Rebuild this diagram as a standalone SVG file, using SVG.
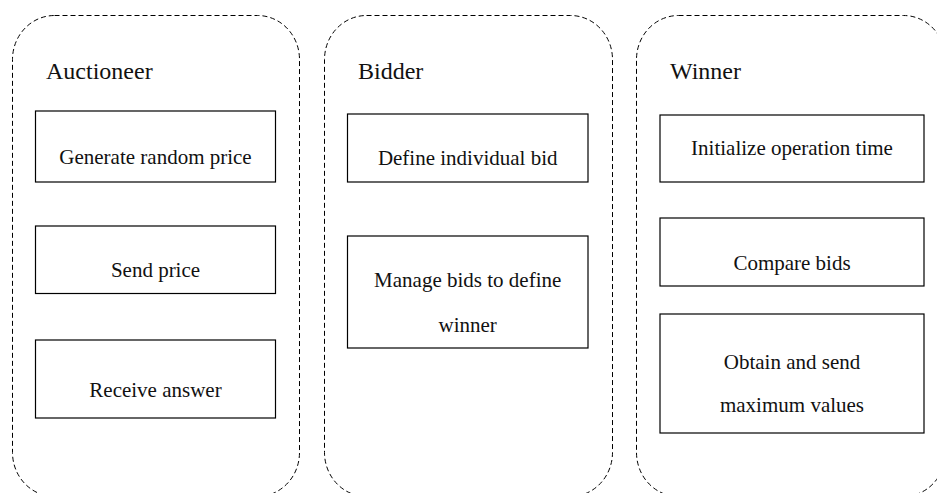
<svg xmlns="http://www.w3.org/2000/svg" width="937" height="493" viewBox="0 0 937 493">
  <style>
    .lane { fill: none; stroke: #000; stroke-width: 1; stroke-dasharray: 5 3; }
    .box { fill: #fff; stroke: #000; stroke-width: 1.2; }
    .title { font-family: "Liberation Serif", "Times New Roman", serif; font-size: 24px; fill: #111; }
    .label { font-family: "Liberation Serif", "Times New Roman", serif; font-size: 21px; fill: #111; text-anchor: middle; }
  </style>
  <rect width="937" height="493" fill="#fff"/>

  <!-- Auctioneer lane -->
  <g id="auctioneer">
    <rect class="lane" x="12.5" y="15.5" width="287" height="481" rx="42" ry="44"/>
    <text class="title" x="46" y="79">Auctioneer</text>
  </g>
  <g id="generate-price">
    <rect class="box" x="35.5" y="111" width="240" height="71"/>
    <text class="label" x="155.5" y="164">Generate random price</text>
  </g>
  <g id="send-price">
    <rect class="box" x="35.5" y="226" width="240" height="67.5"/>
    <text class="label" x="155.5" y="277">Send price</text>
  </g>
  <g id="receive-answer">
    <rect class="box" x="35.5" y="340" width="240" height="78"/>
    <text class="label" x="155.5" y="397">Receive answer</text>
  </g>

  <!-- Bidder lane -->
  <g id="bidder">
    <rect class="lane" x="324.5" y="15.5" width="288" height="481" rx="42" ry="44"/>
    <text class="title" x="358" y="79">Bidder</text>
  </g>
  <g id="define-bid">
    <rect class="box" x="347.5" y="114" width="240.5" height="68"/>
    <text class="label" x="467.7" y="165">Define individual bid</text>
  </g>
  <g id="manage-bids">
    <rect class="box" x="347.5" y="236" width="240.5" height="112"/>
    <text class="label" x="467.7" y="287">Manage bids to define</text>
    <text class="label" x="467.7" y="332">winner</text>
  </g>

  <!-- Winner lane -->
  <g id="winner">
    <rect class="lane" x="636.5" y="15.5" width="309" height="481" rx="42" ry="44"/>
    <text class="title" x="670" y="79">Winner</text>
  </g>
  <g id="init-time">
    <rect class="box" x="660" y="115" width="264" height="67"/>
    <text class="label" x="792" y="155">Initialize operation time</text>
  </g>
  <g id="compare-bids">
    <rect class="box" x="660" y="218" width="264" height="68"/>
    <text class="label" x="792" y="270">Compare bids</text>
  </g>
  <g id="obtain-max">
    <rect class="box" x="660" y="314" width="264" height="119"/>
    <text class="label" x="792" y="369">Obtain and send</text>
    <text class="label" x="792" y="412">maximum values</text>
  </g>

  <g id="connectors"/>
</svg>
